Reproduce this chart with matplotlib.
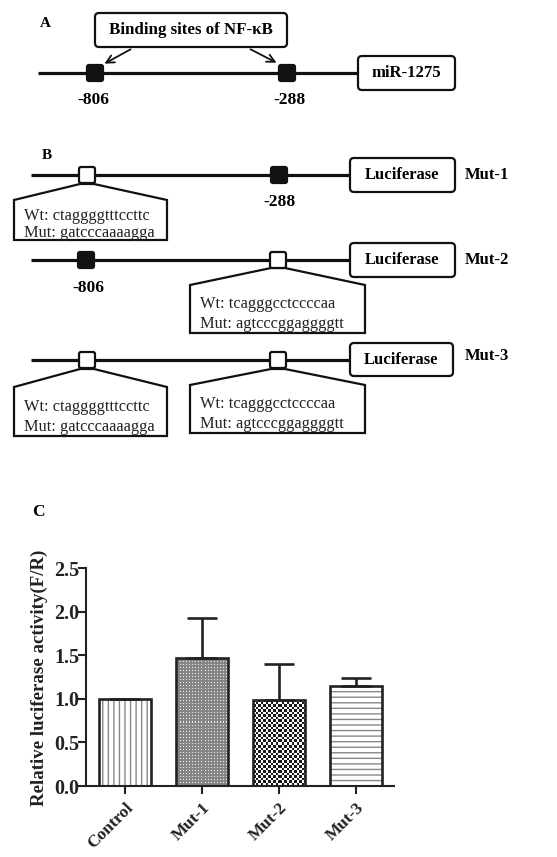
import numpy as np
import matplotlib
matplotlib.use('Agg')
import matplotlib.pyplot as plt
from matplotlib.patches import FancyBboxPatch, Polygon
from matplotlib.colors import ListedColormap

plt.rcParams['font.family'] = ['Liberation Serif', 'DejaVu Serif']
plt.rcParams['hatch.linewidth'] = 1.0

# data
groups = ['Control', 'Mut-1', 'Mut-2', 'Mut-3']
values = [1.00, 1.47, 0.99, 1.15]
errors = [0.0, 0.46, 0.41, 0.09]
yticks = [0.0, 0.5, 1.0, 1.5, 2.0, 2.5]

W, H = 557, 857
fig = plt.figure(figsize=(W / 100, H / 100), dpi=100)

# diagram layer in pixel coords
ax0 = fig.add_axes([0, 0, 1, 1])
ax0.set_xlim(0, W)
ax0.set_ylim(H, 0)
ax0.axis('off')


def site(x, y, filled):
    s = 16
    p = FancyBboxPatch((x - s / 2 + 2, y - s / 2 + 2), s - 4, s - 4,
                       boxstyle='round,pad=2', fc='#111111' if filled else 'white',
                       ec='#111111', lw=1.6, zorder=4)
    ax0.add_patch(p)


def rbox(x0, y0, x1, y1, text, size=12):
    p = FancyBboxPatch((x0 + 4, y0 + 4), x1 - x0 - 8, y1 - y0 - 8,
                       boxstyle='round,pad=4', fc='white', ec='#111111', lw=1.6, zorder=3)
    ax0.add_patch(p)
    ax0.text((x0 + x1) / 2, (y0 + y1) / 2, text, ha='center', va='center',
             fontsize=size, fontweight='bold', zorder=5)


def dna(y, x0, x1):
    ax0.plot([x0, x1], [y, y], color='#111111', lw=2.3, solid_capstyle='butt', zorder=2)


def callout(xs, ys, x0, x1, ytop, ybot, wt, mut):
    pts = [(xs - 7, ys), (x0, ytop), (x0, ybot), (x1, ybot), (x1, ytop), (xs + 7, ys)]
    ax0.add_patch(Polygon(pts, closed=True, fc='white', ec='#111111', lw=1.6, zorder=3))
    ax0.text(x0 + 10, ytop + (ybot - ytop) * 0.40, 'Wt: ' + wt, ha='left', va='center',
             fontsize=11.8, color='#222222', zorder=5)
    ax0.text(x0 + 10, ytop + (ybot - ytop) * 0.82, 'Mut: ' + mut, ha='left', va='center',
             fontsize=11.8, color='#222222', zorder=5)


wt1, mut1 = 'ctaggggtttccttc', 'gatcccaaaagga'
wt2, mut2 = 'tcagggcctccccaa', 'agtcccggaggggtt'

# panel A
ax0.text(45, 23, 'A', fontsize=11, fontweight='bold', ha='center', va='center')
dna(73, 38, 360)
site(95, 73, True)
site(287, 73, True)
rbox(95, 13, 287, 47, 'Binding sites of NF-\u03baB', size=12.2)
rbox(358, 56, 455, 90, 'miR-1275')
ax0.annotate('', xy=(102, 65), xytext=(133, 48),
             arrowprops=dict(arrowstyle='->', lw=1.3, color='#111111', mutation_scale=14))
ax0.annotate('', xy=(279, 64), xytext=(248, 48),
             arrowprops=dict(arrowstyle='->', lw=1.3, color='#111111', mutation_scale=14))
ax0.text(93, 100, '-806', fontsize=12.5, fontweight='bold', ha='center', va='center')
ax0.text(289, 100, '-288', fontsize=12.5, fontweight='bold', ha='center', va='center')

# panel B
ax0.text(47, 155, 'B', fontsize=11, fontweight='bold', ha='center', va='center')

# Mut-1
dna(175, 31, 352)
callout(87, 184, 14, 167, 200, 240, wt1, mut1)
site(87, 175, False)
site(279, 175, True)
ax0.text(280, 202, '-288', fontsize=12.5, fontweight='bold', ha='center', va='center')
rbox(350, 158, 455, 192, 'Luciferase')
ax0.text(465, 175, 'Mut-1', fontsize=12, fontweight='bold', ha='left', va='center')

# Mut-2
dna(260, 31, 352)
site(86, 260, True)
callout(278, 268, 190, 365, 285, 333, wt2, mut2)
site(278, 260, False)
ax0.text(88, 288, '-806', fontsize=12.5, fontweight='bold', ha='center', va='center')
rbox(350, 243, 455, 277, 'Luciferase')
ax0.text(465, 260, 'Mut-2', fontsize=12, fontweight='bold', ha='left', va='center')

# Mut-3
dna(360, 31, 352)
callout(87, 369, 14, 167, 387, 436, wt1, mut1)
callout(278, 369, 190, 365, 385, 433, wt2, mut2)
site(87, 360, False)
site(278, 360, False)
rbox(350, 343, 453, 376, 'Luciferase')
ax0.text(465, 356, 'Mut-3', fontsize=12, fontweight='bold', ha='left', va='center')

# panel C
ax0.text(38, 512, 'C', fontsize=12.5, fontweight='bold', ha='center', va='center')

ax_w, ax_h = 308, 218
ax = fig.add_axes([86 / W, (H - 786) / H, ax_w / W, ax_h / H])
xlim = (-0.506, 3.49)
ylim = (0, 2.5)
x = np.arange(len(groups))
bw = 0.675
hatches = ['|||', None, None, '---']
for i in range(len(groups)):
    if hatches[i]:
        ax.bar(x[i], values[i], bw, color='white', edgecolor='#888888',
               hatch=hatches[i], lw=0, zorder=2)
bars = ax.bar(x, values, bw, color='none', edgecolor='#222222', lw=1.9, zorder=3)


# pixel textures for the two checkered bars
def texture(i, kind):
    wpx = int(round(bw * ax_w / (xlim[1] - xlim[0])))
    hpx = int(round(values[i] * ax_h / (ylim[1] - ylim[0])))
    r, c = np.mgrid[0:hpx, 0:wpx]
    if kind == 'fine':
        arr = ((r % 3 == 1) & (c % 3 == 1)).astype(float)
        cmap = ListedColormap(['#858585', '#eeeeee'])
    else:
        arr = ((np.floor(r / 2.5) + np.floor(c / 2.5)) % 2).astype(float)
        cmap = ListedColormap(['#1a1a1a', '#ffffff'])
    img = ax.imshow(arr, cmap=cmap, vmin=0, vmax=1, aspect='auto', interpolation='nearest',
                    extent=[x[i] - bw / 2, x[i] + bw / 2, 0, values[i]], zorder=2)
    img.set_clip_path(bars[i])


texture(1, 'fine')
texture(2, 'coarse')
ax.set_xlim(*xlim)
ax.set_ylim(*ylim)

ax.errorbar(x, values, yerr=[np.zeros(len(errors)), errors], fmt='none',
            ecolor='#222222', elinewidth=1.9, capsize=11, capthick=1.9, zorder=4)

for s in ['top', 'right']:
    ax.spines[s].set_visible(False)
for s in ['left', 'bottom']:
    ax.spines[s].set_linewidth(1.5)
    ax.spines[s].set_color('#222222')
ax.set_yticks(yticks)
ax.set_yticklabels(['%.1f' % v for v in yticks], fontsize=14.5, fontweight='bold',
                   color='#222222')
ax.set_xticks(x)
ax.set_xticklabels(groups, rotation=45, ha='right', rotation_mode='anchor',
                   fontsize=12.5, fontweight='bold', color='#222222')
ax.tick_params(axis='both', direction='out', length=6, width=1.5, color='#222222')
ax.tick_params(axis='y', pad=-1)
ax.tick_params(axis='x', pad=4)
ax.set_ylabel('Relative luciferase activity(F/R)', fontsize=13.6, fontweight='bold',
              color='#222222')
ax.yaxis.set_label_coords(-0.123, 0.495)

fig.savefig('out.png', dpi=100)
